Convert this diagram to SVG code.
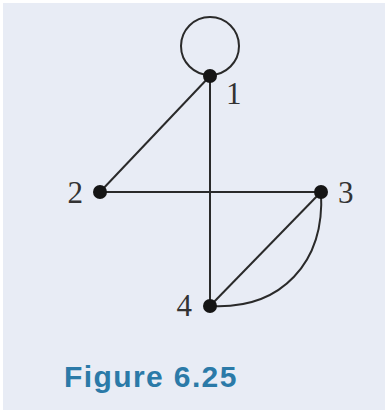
<svg xmlns="http://www.w3.org/2000/svg" width="388" height="413" viewBox="0 0 388 413">
<style>
.e{fill:none;stroke:#2a2a2a;stroke-width:2}
.n{fill:#151515}
.l{font-family:"Liberation Serif",serif;font-size:31px;fill:#333}
.cap{font-family:"Liberation Sans",Arial,sans-serif;font-weight:bold;font-size:30px;fill:#2b7aa8;letter-spacing:1.4px}
</style>
<rect width="388" height="413" fill="#ffffff"/>
<rect x="3" y="3" width="382" height="407" fill="#e8ecf5"/>
<g id="connectors">
<circle class="e" cx="210" cy="46" r="29"/>
<line class="e" x1="210" y1="76" x2="100" y2="192"/>
<line class="e" x1="210" y1="76" x2="210" y2="306"/>
<line class="e" x1="100" y1="192" x2="321" y2="192"/>
<line class="e" x1="321" y1="192" x2="210" y2="306"/>
<path class="e" d="M321,192 C325,262 282,310 210,306"/>
</g>
<g id="node1"><circle class="n" cx="210" cy="76" r="7"/><text class="l" x="226" y="104">1</text></g>
<g id="node2"><circle class="n" cx="100" cy="192" r="7"/><text class="l" x="83" y="203" text-anchor="end">2</text></g>
<g id="node3"><circle class="n" cx="321" cy="192" r="7"/><text class="l" x="338" y="203">3</text></g>
<g id="node4"><circle class="n" cx="210" cy="306" r="7"/><text class="l" x="192" y="316" text-anchor="end">4</text></g>
<text class="cap" x="64" y="387">Figure 6.25</text>
</svg>
